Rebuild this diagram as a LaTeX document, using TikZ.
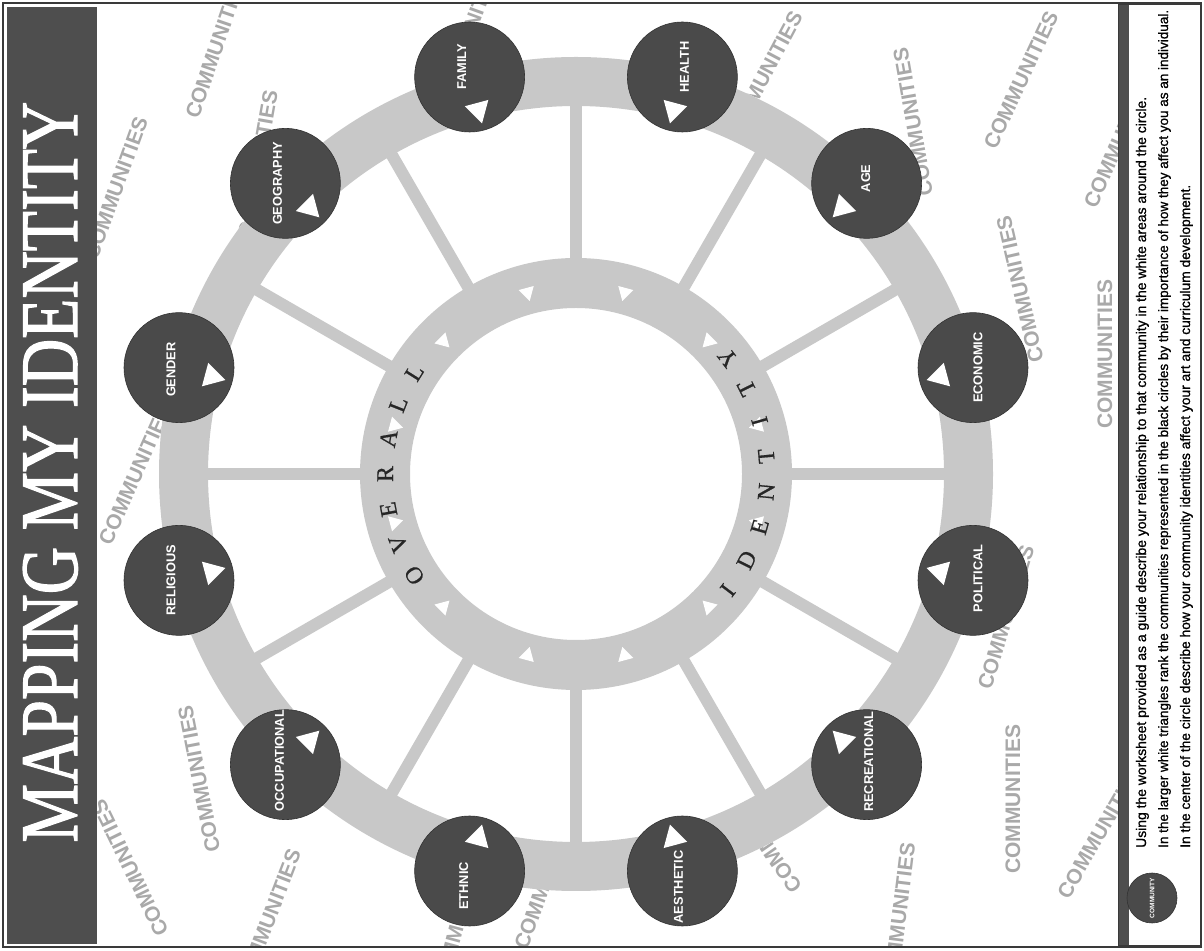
\documentclass[tikz,border=0pt]{standalone}
\usepackage{fontspec}
\setmainfont{Liberation Serif}
\setsansfont{Liberation Sans}
\usepackage{graphicx}
\usetikzlibrary{calc}
\definecolor{ringgray}{HTML}{C8C8C8}
\definecolor{dotgray}{HTML}{4A4A4A}
\definecolor{bandgray}{HTML}{4E4E4E}
\definecolor{wmgray}{HTML}{A9A9A9}
\definecolor{framegray}{HTML}{3A3A3A}
\tikzset{
  wm/.style={font=\fontsize{21}{21}\selectfont\sffamily\bfseries, text=wmgray, inner sep=0pt},
  commcircle/.style={circle, fill=dotgray, draw=black!80, line width=0.6pt, minimum size=110pt, inner sep=0pt},
  circlabel/.style={font=\fontsize{12.8}{12.8}\selectfont\sffamily\bfseries, text=white, rotate=90, inner sep=0pt},
  ringletter/.style={font=\fontsize{24}{24}\selectfont\addfontfeature{FakeBold=0.6}, text=black!85, inner sep=0pt, anchor=base},
  legendtext/.style={font=\fontsize{11.4}{12}\selectfont\sffamily\addfontfeature{FakeBold=1}, text=black, rotate=90, anchor=base west, inner sep=0pt},
}
\begin{document}
\begin{tikzpicture}[x=1pt,y=1pt]
\useasboundingbox (0,0) rectangle (1204,950);
\fill[white] (0,0) rectangle (1204,950);
\coordinate (C) at (576,476);
% background watermark words
\begin{scope}
\clip (5,5) rectangle (1199,945);
\foreach \n/\x/\y/\a in {w1/116/762/70, w2/216/903/71, w3/258/786/80, w4/468/915/70,
  w5/762/871/62, w6/913/828/100, w7/1021/870/65, w8/1120/812/66, w9/1020/661/103,
  w10/1105/596/90, w13/1006/333/73, w16/1100/118/60, w18/1013/151/90, w19/899/33/83,
  w20/754/121/125, w21/546/72/70, w22/459/32/75, w23/268/30/69, w24/199/171/101,
  w25/130/82/116, w26/135/475/66}
  \node[wm, rotate=\a] (\n) at (\x,\y) {COMMUNITIES};
\end{scope}
% wheel
\fill[white] (C) circle (417);
\fill[ringgray, even odd rule] (C) circle (417) (C) circle (368);
\foreach \k in {0,...,11}
  \draw[ringgray, line width=12pt] ($(C)+(\k*30:212)$) -- ($(C)+(\k*30:372)$);
\fill[ringgray, even odd rule] (C) circle (216) (C) circle (166);
% small triangles of the inner ring
\foreach \k in {0,...,11}{
  \pgfmathsetmacro\t{15+30*\k}
  \coordinate (s\k) at ($(C)+(\t:188)$);
  \fill[white] ($(s\k)+(\t+180:9)$) -- ($(s\k)+(\t+60:9)$) -- ($(s\k)+(\t-60:9)$) -- cycle;
}
% inner ring letters
\foreach \l [count=\i from 0] in {O,V,E,R,A,L,L}{
  \pgfmathsetmacro\t{180+(3-\i)*10.7}
  \node[ringletter, rotate=\t-90] (ov\i) at ($(C)+(\t:183)$) {\l};
}
\foreach \l [count=\i from 0] in {I,D,E,N,T,I,T,Y}{
  \pgfmathsetmacro\t{-37.45+\i*10.7}
  \node[ringletter, rotate=\t+90] (id\i) at ($(C)+(\t:199)$) {\l};
}
% community circles
\foreach \n/\a/\dx/\dy in {FAMILY/105/-8/10, HEALTH/75/2/10, AGE/45/-1/5, ECONOMIC/15/5/0,
  POLITICAL/345/5/2, RECREATIONAL/315/2/3, AESTHETIC/285/-4/-16, ETHNIC/255/-6/-15,
  OCCUPATIONAL/225/-6/4, RELIGIOUS/195/-8/0, GENDER/165/-8/-2, GEOGRAPHY/135/-8/0}{
  \node[commcircle] (c\n) at ($(C)+(\a:411)$) {};
  \node[circlabel] (t\n) at ($(c\n)+(\dx,\dy)$) {\n};
  \coordinate (g\n) at ($(c\n)+(\a+180:34)$);
  \fill[white] ($(g\n)+(\a+180:14)$) -- ($(g\n)+(\a+60:14)$) -- ($(g\n)+(\a-60:14)$) -- cycle;
}
% title band
\fill[bandgray] (7,6) rectangle (97,943);
\node[rotate=90, anchor=base, text=white, inner sep=0pt] (title) at (77,478)
  {\resizebox{741pt}{54pt}{\fontsize{80}{80}\selectfont\addfontfeature{FakeBold=1.5} MAPPING MY IDENTITY}};
% legend panel
\fill[white] (1118,5) rectangle (1201,945);
\fill[bandgray] (1118,5) rectangle (1129,945);
\draw[framegray, line width=1pt] (1118,5) rectangle (1201,945);
\node[commcircle, minimum size=50pt] (legc) at (1152,52) {};
\node[rotate=90, font=\fontsize{6.5}{6.5}\selectfont\sffamily\bfseries, text=white, inner sep=0pt] (legt) at (legc) {COMMUNITY};
\node[legendtext] (l1) at (1146,102) {\resizebox{751pt}{!}{Using the worksheet provided as a guide describe your relationship to that community in the white areas around the circle.}};
\node[legendtext] (l2) at (1168,102) {\resizebox{838pt}{!}{In the larger white triangles rank the communities represented in the black circles by their importance of how they affect you as an individual.}};
\node[legendtext] (l3) at (1190,102) {\resizebox{663pt}{!}{In the center of the circle describe how your community identities affect your art and curriculum development.}};
% outer frame
\draw[framegray, line width=1.5pt] (3,3) rectangle (1201,947);
\end{tikzpicture}
\end{document}
